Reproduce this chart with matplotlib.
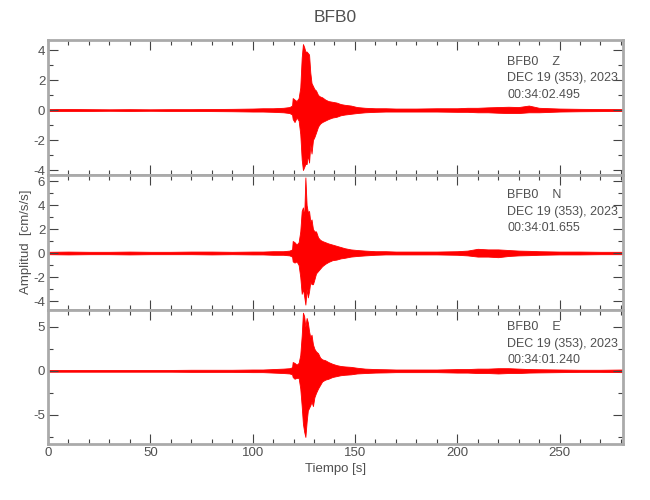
import matplotlib
matplotlib.use("Agg")
import matplotlib.pyplot as plt
from matplotlib.ticker import MultipleLocator

plt.rcParams['font.family'] = ['Liberation Sans', 'DejaVu Sans']
plt.rcParams['axes.unicode_minus'] = False

# envelope of each trace (max / min), time in s
t = [0, 10, 20, 30, 40, 50, 60, 70, 80, 90, 100, 105, 110, 115, 118,
     119.3, 119.6, 120.5, 121.5, 122.5, 123.3, 124, 124.6, 125.2, 125.8,
     126.4, 127, 127.6, 128.2, 128.8, 129.5, 130.2, 131, 132, 133, 134,
     135.5, 137, 139, 141, 143, 145, 148, 151, 155, 160, 165, 170, 180,
     190, 200, 205, 210, 215, 220, 225, 230, 235, 240, 250, 260, 270, 281]

z_up = [.06, .07, .06, .05, .06, .05, .06, .06, .07, .08, .1, .12, .12, .15, .2,
        .3, .8, .7, .6, .8, 1.5, 3.5, 4.4, 4.2, 3.9,
        3.9, 3.8, 3.7, 2.5, 1.8, 1.6, 1.4, 1.3, 1.0, .9, .85,
        .7, .6, .55, .5, .4, .35, .3, .2, .15, .12, .12, .1, .1,
        .12, .12, .15, .15, .18, .2, .22, .2, .3, .15, .1, .08, .07, .06]
z_lo = [-.06, -.06, -.06, -.05, -.06, -.05, -.06, -.06, -.07, -.08, -.1, -.1, -.12, -.15, -.2,
        -.3, -.6, -.8, -.5, -.7, -1.6, -3.3, -4.0, -3.8, -3.6,
        -3.6, -3.0, -3.5, -2.3, -2.9, -2.0, -1.8, -1.5, -1.1, -.9, -.8,
        -.7, -.6, -.5, -.45, -.35, -.3, -.25, -.2, -.15, -.12, -.1, -.1, -.1,
        -.1, -.12, -.12, -.15, -.15, -.18, -.2, -.2, -.15, -.15, -.1, -.08, -.07, -.06]

n_up = [.1, .12, .1, .1, .12, .1, .1, .12, .12, .1, .12, .12, .15, .15, .2,
        .3, 1.0, .9, .7, .9, 1.8, 3.5, 3.8, 3.0, 6.3,
        4.0, 3.4, 3.5, 2.6, 2.8, 2.0, 1.8, 1.8, 1.3, 1.1, 1.0,
        .9, .8, .7, .6, .5, .4, .3, .25, .2, .15, .15, .12, .12,
        .12, .15, .2, .35, .3, .3, .25, .2, .18, .15, .12, .12, .1, .1]
n_lo = [-.1, -.12, -.1, -.1, -.12, -.1, -.1, -.1, -.12, -.1, -.12, -.12, -.15, -.15, -.2,
        -.3, -.7, -.8, -.7, -1.0, -2.0, -3.4, -3.0, -3.6, -4.3,
        -3.0, -3.7, -3.2, -2.4, -2.6, -2.6, -2.2, -1.7, -1.5, -1.3, -1.1,
        -.9, -.75, -.6, -.55, -.45, -.4, -.3, -.25, -.2, -.15, -.12, -.12, -.12,
        -.12, -.15, -.2, -.3, -.3, -.35, -.25, -.2, -.18, -.15, -.12, -.12, -.1, -.1]

e_up = [.1, .1, .1, .1, .1, .1, .1, .12, .12, .12, .15, .15, .2, .25, .3,
        .4, 1.0, .9, .7, .9, 1.8, 4.0, 6.6, 6.2, 5.0,
        6.0, 5.5, 4.5, 3.8, 4.1, 3.0, 2.5, 2.2, 2.0, 1.5, 1.3,
        1.2, 1.0, .8, .65, .55, .5, .45, .35, .25, .2, .18, .15, .15,
        .15, .2, .2, .25, .25, .3, .3, .25, .2, .18, .15, .12, .12, .15]
e_lo = [-.1, -.1, -.1, -.1, -.1, -.1, -.1, -.12, -.12, -.12, -.15, -.15, -.2, -.25, -.3,
        -.4, -.7, -.9, -.8, -.8, -2.0, -4.0, -6.0, -6.9, -7.5,
        -5.8, -4.5, -4.2, -3.9, -3.5, -4.0, -3.0, -2.5, -2.0, -1.6, -1.2,
        -1.0, -.9, -.7, -.6, -.5, -.45, -.4, -.3, -.25, -.2, -.18, -.15, -.15,
        -.15, -.2, -.2, -.25, -.25, -.3, -.25, -.25, -.2, -.18, -.15, -.12, -.12, -.15]

station = "BFB0"
components = ["Z", "N", "E"]
start_times = ["00:34:02.495", "00:34:01.655", "00:34:01.240"]
date_label = "DEC 19 (353), 2023"
ylims = [(-4.33, 4.67), (-4.75, 6.5), (-8.3, 6.9)]
ymajor = [2, 2, 5]
yminor = [1, 1, 2.5]

GRAY = '#505050'
SPINE = '#aaaaaa'

fig = plt.figure(figsize=(6.5, 5), dpi=100)
# panel edges in pixels from the top: 40, 175, 310, 444
bottoms = [0.65, 0.38, 0.112]
heights = [0.27, 0.27, 0.268]
traces = [(z_up, z_lo), (n_up, n_lo), (e_up, e_lo)]
# first text line of each panel, pixels from top
text_top = [62, 195, 327]

axes = []
for i in range(3):
    ax = fig.add_axes([0.0738, bottoms[i], 0.8846, heights[i]])
    up, lo = traces[i]
    ax.fill_between(t, lo, up, color='#ff0000', linewidth=0.6, edgecolor='#ff0000')
    ax.set_xlim(0, 281)
    ax.set_ylim(*ylims[i])
    ax.xaxis.set_major_locator(MultipleLocator(50))
    ax.xaxis.set_minor_locator(MultipleLocator(10))
    ax.yaxis.set_major_locator(MultipleLocator(ymajor[i]))
    ax.yaxis.set_minor_locator(MultipleLocator(yminor[i]))
    ax.tick_params(which='both', direction='in', top=True, right=True,
                   color='#444444', labelcolor=GRAY, labelsize=9.5, pad=2)
    ax.tick_params(which='major', length=7, width=0.8)
    ax.tick_params(which='minor', length=3.6, width=0.8)
    for s in ax.spines.values():
        s.set_color(SPINE)
        s.set_linewidth(2)
    if i < 2:
        ax.tick_params(labelbottom=False)
    lines = [station + "    " + components[i], date_label, start_times[i]]
    for k, line in enumerate(lines):
        y_px = text_top[i] + 16.5 * k
        fig.text(507 / 650, 1 - y_px / 500, line, fontsize=9, color=GRAY,
                 va='center', ha='left')
    axes.append(ax)

axes[2].set_xlabel("Tiempo [s]", fontsize=9.5, color=GRAY, labelpad=3)
fig.text(0.04, 0.516, "Amplitud  [cm/s/s]", rotation=90, fontsize=9.5,
         color=GRAY, ha='center', va='center')
fig.text(0.516, 0.964, station, fontsize=12.5, color=GRAY, ha='center', va='center')

fig.savefig("out.png", dpi=100)
